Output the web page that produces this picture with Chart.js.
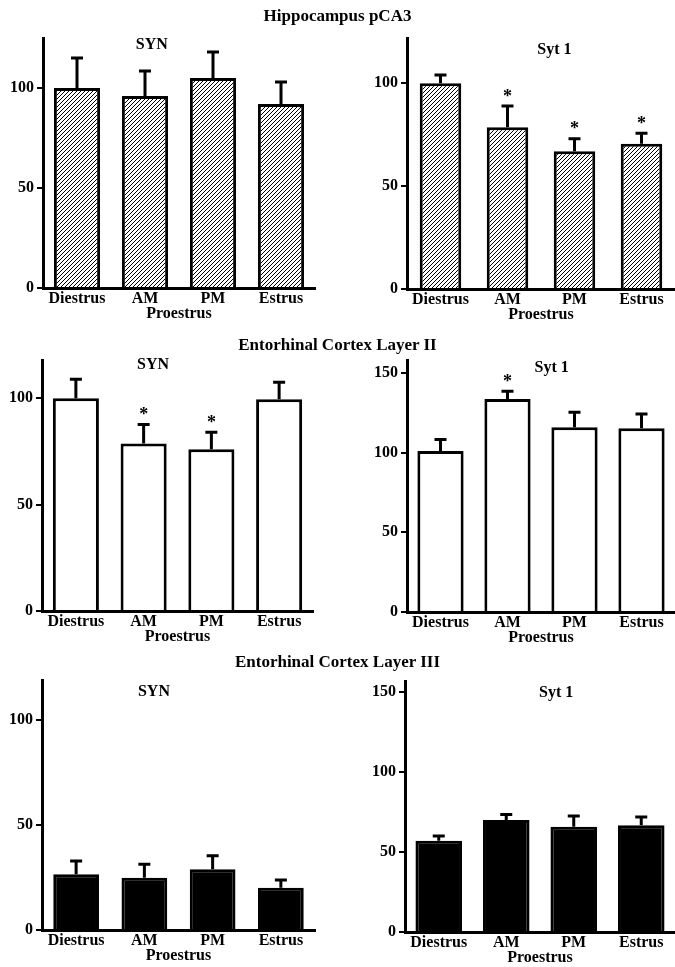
<!DOCTYPE html>
<html>
<head>
<meta charset="utf-8">
<script src="https://cdn.jsdelivr.net/npm/chart.js@4.4.0/dist/chart.umd.min.js"></script>
<style>
body { margin: 0; background: #fff; }
#page { position: relative; width: 675px; height: 967px; font-family: "Liberation Serif", "Times New Roman", serif; }
canvas { position: absolute; }
.head { position: absolute; left: 0; width: 675px; text-align: center; font-weight: bold; font-size: 17px; line-height: 20px; color: #000; }
</style>
</head>
<body>
<div id="page">
  <canvas id="c1" width="340" height="305" style="left:0;top:20px"></canvas>
  <canvas id="c2" width="335" height="305" style="left:340px;top:20px"></canvas>
  <canvas id="c3" width="340" height="308" style="left:0;top:340px"></canvas>
  <canvas id="c4" width="335" height="308" style="left:340px;top:340px"></canvas>
  <canvas id="c5" width="340" height="302" style="left:0;top:665px"></canvas>
  <canvas id="c6" width="335" height="302" style="left:340px;top:665px"></canvas>
  <div class="head" style="top:6px">Hippocampus pCA3</div>
  <div class="head" style="top:335px">Entorhinal Cortex Layer II</div>
  <div class="head" style="top:652px">Entorhinal Cortex Layer III</div>
</div>
<script>
const phases = ['Diestrus', 'AM', 'PM', 'Estrus'];
const groupLabel = 'Proestrus';

// Hippocampus pCA3
const hipSynMean = [100, 96, 105, 92];
const hipSynSem = [15, 12.5, 13, 11];
const hipSynStar = [false, false, false, false];
const hipSytMean = [100, 78.6, 67, 70.6];
const hipSytSem = [4, 10.4, 6, 5.1];
const hipSytStar = [false, true, true, true];

// Entorhinal cortex layer II
const ec2SynMean = [100, 78.8, 76, 99.5];
const ec2SynSem = [9, 8.9, 8, 8];
const ec2SynStar = [false, true, true, false];
const ec2SytMean = [101, 133.6, 115.8, 115.2];
const ec2SytSem = [7.1, 4.8, 9.5, 9];
const ec2SytStar = [false, true, false, false];

// Entorhinal cortex layer III
const ec3SynMean = [26.5, 24.9, 28.9, 20.1];
const ec3SynSem = [6.3, 6.4, 6.5, 3.7];
const ec3SynStar = [false, false, false, false];
const ec3SytMean = [57, 70, 65.8, 66.7];
const ec3SytSem = [3, 3.5, 6.7, 5.3];
const ec3SytStar = [false, false, false, false];

const ticks100 = [0, 50, 100];
const ticks150 = [0, 50, 100, 150];

const FONT = '"Liberation Serif", "Times New Roman", serif';

function hatch() {
    const t = document.createElement('canvas');
    t.width = 4; t.height = 4;
    const g = t.getContext('2d');
    g.fillStyle = '#fff';
    g.fillRect(0, 0, 4, 4);
    g.strokeStyle = '#000';
    g.lineWidth = 1;
    g.beginPath();
    g.moveTo(-1, 5); g.lineTo(5, -1);
    g.stroke();
    return g.createPattern(t, 'repeat');
}

// error bars, stars and panel title
const extras = {
    id: 'extras',
    afterDatasetsDraw(chart, args, opts) {
        const ctx = chart.ctx;
        const ds = chart.data.datasets[0];
        const meta = chart.getDatasetMeta(0);
        const y = chart.scales.y;
        ctx.save();
        ctx.strokeStyle = '#000';
        ctx.fillStyle = '#000';
        ctx.lineWidth = 3;
        ctx.textAlign = 'center';
        ctx.textBaseline = 'middle';
        meta.data.forEach((bar, i) => {
            const base = y.getPixelForValue(ds.data[i]);
            const top = y.getPixelForValue(ds.data[i] + ds.sem[i]);
            ctx.beginPath();
            ctx.moveTo(bar.x, base);
            ctx.lineTo(bar.x, top);
            ctx.moveTo(bar.x - 6, top);
            ctx.lineTo(bar.x + 6, top);
            ctx.stroke();
            if (ds.star[i]) {
                ctx.font = 'bold 18px ' + FONT;
                ctx.fillText('*', bar.x, top - 9);
            }
        });
        const a = chart.chartArea;
        ctx.font = 'bold 16px ' + FONT;
        ctx.fillText(opts.title, a.left + opts.tx * (a.right - a.left), a.top + opts.ty);
        ctx.restore();
    }
};

function panel(id, mean, sem, star, fill, max, yTicks, barPct, pad, title, tx, ty) {
    const font = { family: FONT, size: 16, weight: 'bold', lineHeight: 1 };
    new Chart(document.getElementById(id), {
        type: 'bar',
        data: {
            labels: phases,
            datasets: [{
                data: mean,
                sem: sem,
                star: star,
                backgroundColor: fill,
                borderColor: '#000',
                borderWidth: 3,
                barPercentage: barPct,
                categoryPercentage: 1
            }]
        },
        options: {
            responsive: false,
            animation: false,
            devicePixelRatio: 1,
            layout: { padding: pad },
            plugins: {
                legend: { display: false },
                tooltip: { enabled: false },
                extras: { title: title, tx: tx, ty: ty }
            },
            scales: {
                x: {
                    offset: true,
                    grid: { display: false, drawTicks: false },
                    border: { display: true, color: '#000', width: 3 },
                    ticks: { color: '#000', font: font, padding: 3, maxRotation: 0, autoSkip: false },
                    title: { display: true, text: groupLabel, color: '#000', font: font, padding: { top: -10, bottom: 0 } },
                    afterFit: s => { s.height = 34; }
                },
                y: {
                    min: 0,
                    max: max,
                    afterBuildTicks: s => { s.ticks = yTicks.map(v => ({ value: v })); },
                    afterFit: s => { s.width = 40; },
                    grid: { drawOnChartArea: false, drawTicks: true, tickLength: 6, color: '#000', lineWidth: 2 },
                    border: { display: true, color: '#000', width: 3 },
                    ticks: { color: '#000', font: font, padding: 3 }
                }
            }
        },
        plugins: [extras]
    });
}

const hatched = hatch();

panel('c1', hipSynMean, hipSynSem, hipSynStar, hatched, 125, ticks100, 0.68,
    { left: 3, right: 25, top: 18, bottom: 3 }, 'SYN', 0.40, 7);
panel('c2', hipSytMean, hipSytSem, hipSytStar, hatched, 122, ticks100, 0.62,
    { left: 27, right: 0, top: 18, bottom: 2 }, 'Syt 1', 0.55, 12);
panel('c3', ec2SynMean, ec2SynSem, ec2SynStar, '#fff', 118, ticks100, 0.68,
    { left: 2, right: 27, top: 20, bottom: 3 }, 'SYN', 0.41, 5);
panel('c4', ec2SytMean, ec2SytSem, ec2SytStar, '#fff', 158, ticks150, 0.69,
    { left: 27, right: 0, top: 20, bottom: 2 }, 'Syt 1', 0.54, 8);
panel('c5', ec3SynMean, ec3SynSem, ec3SynStar, '#000', 119, ticks100, 0.67,
    { left: 2, right: 25, top: 15, bottom: 3 }, 'SYN', 0.41, 12);
panel('c6', ec3SytMean, ec3SytSem, ec3SytStar, '#000', 157, ticks150, 0.69,
    { left: 25, right: 0, top: 16, bottom: 1 }, 'Syt 1', 0.56, 12);
</script>
</body>
</html>
